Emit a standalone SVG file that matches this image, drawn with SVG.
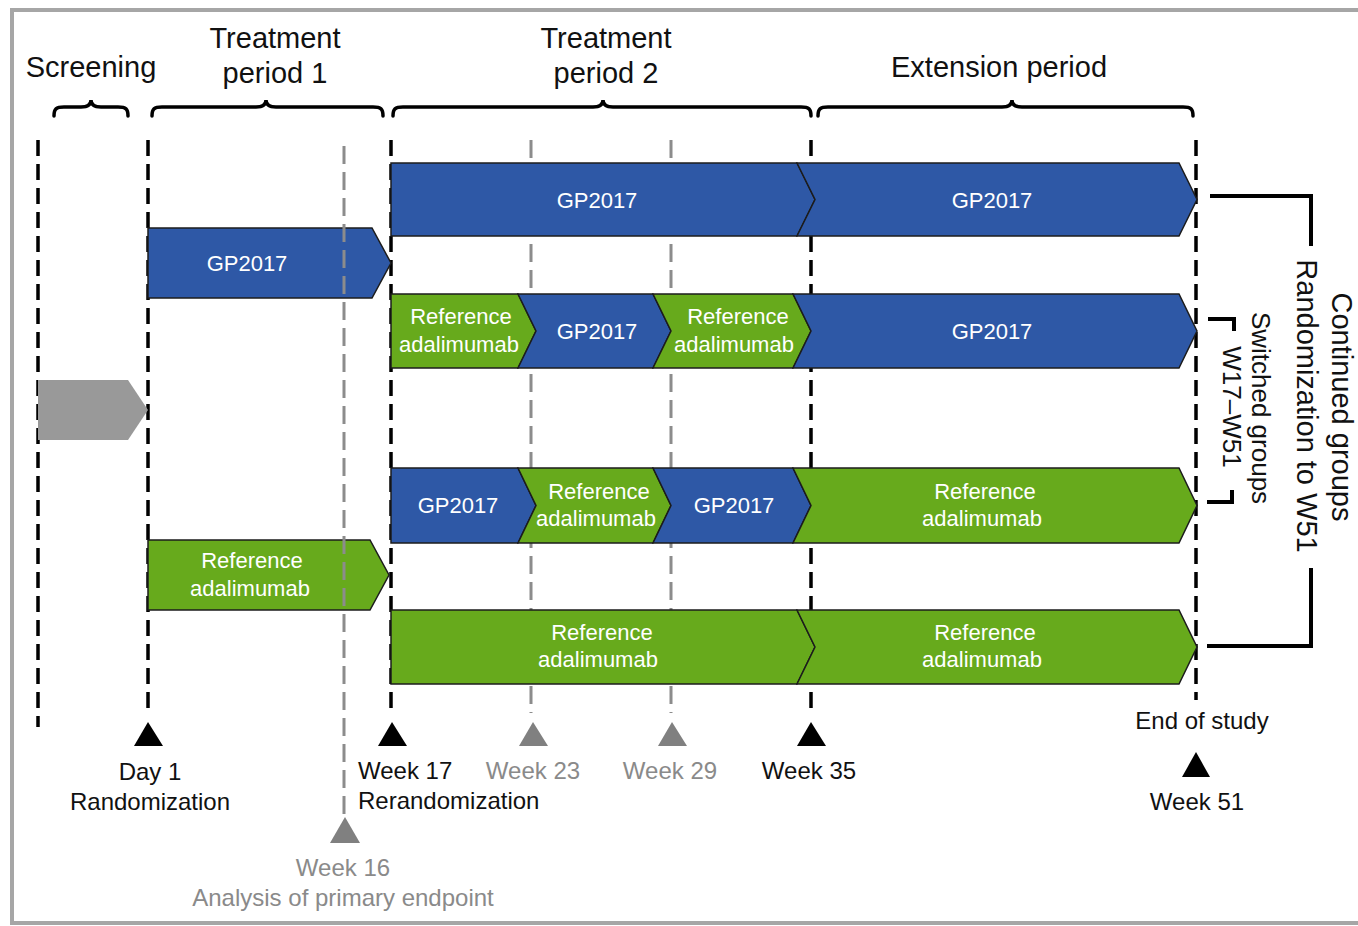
<svg xmlns="http://www.w3.org/2000/svg" width="1358" height="926" viewBox="0 0 1358 926">
<style>
text{font-family:"Liberation Sans",Arial,sans-serif}
.hdr{font-size:29px;fill:#111;text-anchor:middle}
.bt{font-size:22px;fill:#fff;text-anchor:middle}
.lb{font-size:24px;fill:#111}
.lg{font-size:24px;fill:#8a8a8a}
.blue{fill:#2e58a6;stroke:#1c1c1c;stroke-width:1.5;stroke-linejoin:miter}
.green{fill:#67aa1c;stroke:#1c1c1c;stroke-width:1.5;stroke-linejoin:miter}
.bd{stroke:#000;stroke-width:3.5;stroke-dasharray:16 8;fill:none}
.gd{stroke:#8c8c8c;stroke-width:3;stroke-dasharray:18 8;fill:none}
.brace{fill:none;stroke:#000;stroke-width:3.5;stroke-linecap:round}
.brk{fill:none;stroke:#000;stroke-width:4}
.tb{fill:#000}
.tg{fill:#808080}
.rt{font-size:29px;fill:#111;text-anchor:middle}
.rs{font-size:26px;fill:#111;text-anchor:middle}
</style>
<rect x="12" y="10" width="1360" height="913" fill="#fff" stroke="#a6a6a6" stroke-width="4"/>
<g id="headers">
<text class="hdr" x="91" y="77">Screening</text>
<text class="hdr" x="275" y="48">Treatment</text>
<text class="hdr" x="275" y="83">period 1</text>
<text class="hdr" x="606" y="48">Treatment</text>
<text class="hdr" x="606" y="83">period 2</text>
<text class="hdr" x="999" y="77">Extension period</text>
</g>
<g id="braces">
<path class="brace" d="M54,116 C54,109 56,107 64,107 L81,107 C87,107 91,105 91,100 C91,105 95,107 101,107 L118,107 C126,107 128,109 128,116"/>
<path class="brace" d="M152,116 C152,109 154,107 162,107 L256,107 C262,107 266,105 266,100 C266,105 270,107 276,107 L373,107 C381,107 383,109 383,116"/>
<path class="brace" d="M393,116 C393,109 395,107 403,107 L593,107 C599,107 603,105 603,100 C603,105 607,107 613,107 L801,107 C809,107 811,109 811,116"/>
<path class="brace" d="M818,116 C818,109 820,107 828,107 L1002,107 C1008,107 1012,105 1012,100 C1012,105 1016,107 1022,107 L1183,107 C1191,107 1193,109 1193,116"/>
</g>
<g id="connectors">
<line class="bd" x1="38" y1="140" x2="38" y2="727"/>
<line class="bd" x1="148" y1="140" x2="148" y2="716"/>
<line class="bd" x1="391" y1="140" x2="391" y2="716"/>
<line class="bd" x1="811" y1="140" x2="811" y2="716"/>
<line class="bd" x1="1196" y1="140" x2="1196" y2="700"/>
<line class="gd" x1="531" y1="140" x2="531" y2="713"/>
<line class="gd" x1="671" y1="140" x2="671" y2="713"/>
</g>
<g id="screening-bar">
<polygon points="38,380 128,380 148,410 128,440 38,440" fill="#999999"/>
</g>
<g id="tp1-gp2017">
<polygon class="blue" points="148,228 372,228 391,263 372,298 148,298"/>
<text class="bt" x="247" y="271">GP2017</text>
</g>
<g id="tp1-reference">
<polygon class="green" points="148,540 370,540 389,575 370,610 148,610"/>
<text class="bt" x="252" y="568">Reference</text>
<text class="bt" x="250" y="596">adalimumab</text>
</g>
<g id="row1">
<polygon class="blue" points="391,163 797,163 815,199.5 797,236 391,236"/>
<polygon class="blue" points="797,163 1179,163 1197,199.5 1179,236 797,236 815,199.5"/>
<text class="bt" x="597" y="208">GP2017</text>
<text class="bt" x="992" y="208">GP2017</text>
</g>
<g id="row2">
<polygon class="green" points="391,294 518,294 536,331 518,368 391,368"/>
<polygon class="blue" points="518,294 653,294 671,331 653,368 518,368 536,331"/>
<polygon class="green" points="653,294 793,294 811,331 793,368 653,368 671,331"/>
<polygon class="blue" points="793,294 1179,294 1197,331 1179,368 793,368 811,331"/>
<text class="bt" x="461" y="324">Reference</text>
<text class="bt" x="459" y="352">adalimumab</text>
<text class="bt" x="597" y="339">GP2017</text>
<text class="bt" x="738" y="324">Reference</text>
<text class="bt" x="734" y="352">adalimumab</text>
<text class="bt" x="992" y="339">GP2017</text>
</g>
<g id="row3">
<polygon class="blue" points="391,468 518,468 536,505.5 518,543 391,543"/>
<polygon class="green" points="518,468 653,468 671,505.5 653,543 518,543 536,505.5"/>
<polygon class="blue" points="653,468 793,468 811,505.5 793,543 653,543 671,505.5"/>
<polygon class="green" points="793,468 1179,468 1197,505.5 1179,543 793,543 811,505.5"/>
<text class="bt" x="458" y="513">GP2017</text>
<text class="bt" x="599" y="499">Reference</text>
<text class="bt" x="596" y="526">adalimumab</text>
<text class="bt" x="734" y="513">GP2017</text>
<text class="bt" x="985" y="499">Reference</text>
<text class="bt" x="982" y="526">adalimumab</text>
</g>
<g id="row4">
<polygon class="green" points="391,610 797,610 815,647 797,684 391,684"/>
<polygon class="green" points="797,610 1179,610 1197,647 1179,684 797,684 815,647"/>
<text class="bt" x="602" y="640">Reference</text>
<text class="bt" x="598" y="667">adalimumab</text>
<text class="bt" x="985" y="640">Reference</text>
<text class="bt" x="982" y="667">adalimumab</text>
</g>
<g id="week16-line">
<line class="gd" x1="344" y1="146" x2="344" y2="815"/>
</g>
<g id="milestones">
<polygon class="tb" points="148,722 134,746 163,746"/>
<polygon class="tb" points="392,722 378,746 407,746"/>
<polygon class="tg" points="533,722 519,746 548,746"/>
<polygon class="tg" points="672,722 658,746 687,746"/>
<polygon class="tb" points="811,722 797,746 826,746"/>
<polygon class="tg" points="345,817 330,843 360,843"/>
<polygon class="tb" points="1196,752 1182,777 1210,777"/>
<text class="lb" x="150" y="780" text-anchor="middle">Day 1</text>
<text class="lb" x="150" y="810" text-anchor="middle">Randomization</text>
<text class="lb" x="358" y="779">Week 17</text>
<text class="lb" x="358" y="809">Rerandomization</text>
<text class="lg" x="533" y="779" text-anchor="middle">Week 23</text>
<text class="lg" x="670" y="779" text-anchor="middle">Week 29</text>
<text class="lb" x="809" y="779" text-anchor="middle">Week 35</text>
<text class="lb" x="1202" y="729" text-anchor="middle">End of study</text>
<text class="lb" x="1197" y="810" text-anchor="middle">Week 51</text>
<text class="lg" x="343" y="876" text-anchor="middle">Week 16</text>
<text class="lg" x="343" y="906" text-anchor="middle">Analysis of primary endpoint</text>
</g>
<g id="continued-groups">
<path class="brk" d="M1210,196 L1311,196 L1311,246"/>
<path class="brk" d="M1311,568 L1311,646 L1207,646"/>
<text class="rt" transform="translate(1332,407) rotate(90)">Continued groups</text>
<text class="rt" transform="translate(1297,406) rotate(90)">Randomization to W51</text>
</g>
<g id="switched-groups">
<path class="brk" d="M1208,319 L1234,319 L1234,331"/>
<path class="brk" d="M1232,490 L1232,502 L1207,502"/>
<text class="rs" transform="translate(1252,408) rotate(90)">Switched groups</text>
<text class="rs" transform="translate(1223,407) rotate(90)">W17–W51</text>
</g>
</svg>
